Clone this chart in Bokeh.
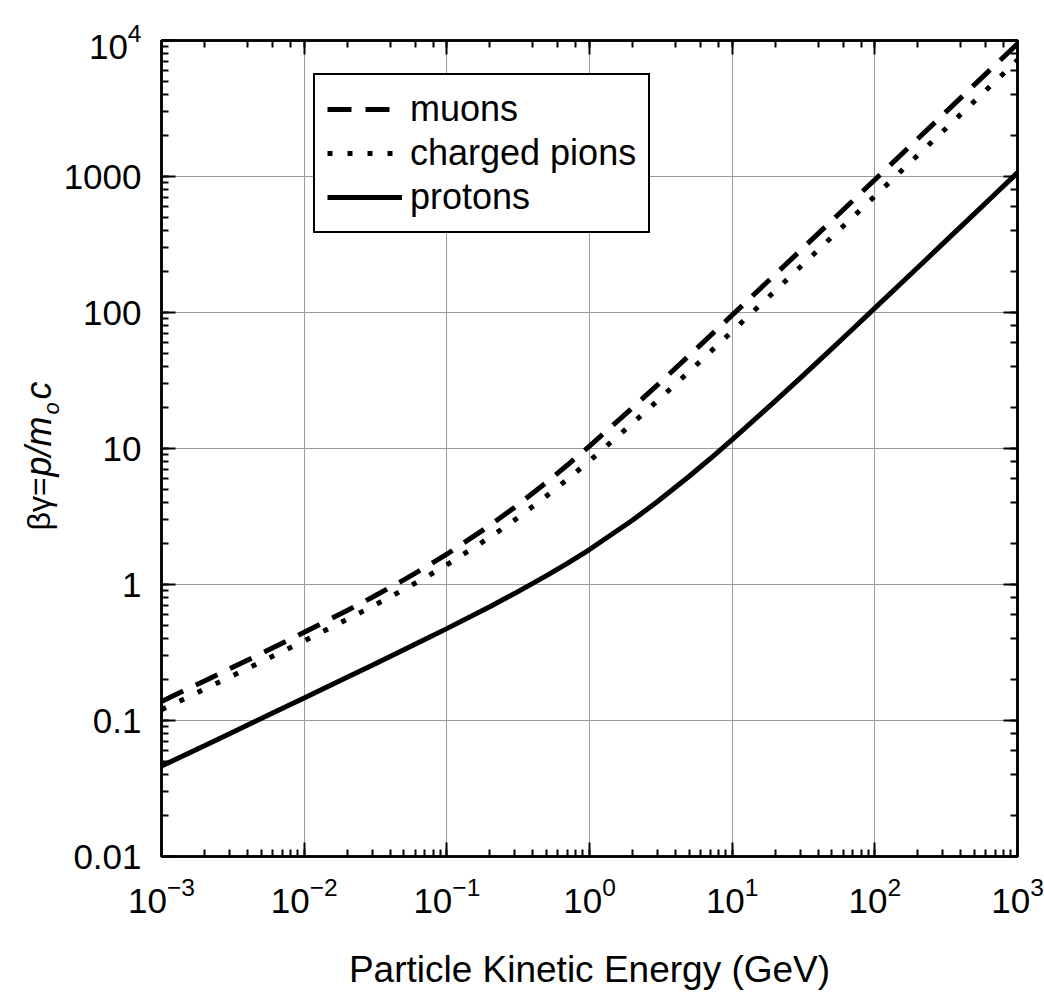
import math
from bokeh.plotting import figure
from bokeh.layouts import row
from bokeh.models import (Range1d, LogAxis, LogTicker, LogTickFormatter, Legend,
                          LegendItem, ColumnDataSource, CustomJSTickFormatter)
from bokeh.core.properties import value
from bokeh.embed import file_html
from bokeh.resources import INLINE

# ---- data ----
energy_gev = [1e-3, 2e-3, 3e-3, 5e-3, 7e-3,
              1e-2, 2e-2, 3e-2, 5e-2, 7e-2,
              0.1, 0.2, 0.3, 0.5, 0.7,
              1, 2, 3, 5, 7,
              10, 20, 30, 50, 70,
              100, 200, 300, 500, 700, 1000]
muons = [0.138, 0.1955, 0.240, 0.311, 0.370,
         0.445, 0.644, 0.805, 1.082, 1.328,
         1.670, 2.715, 3.707, 5.644, 7.559,
         10.42, 19.90, 29.38, 48.31, 67.24,
         95.64, 190.3, 284.9, 474.2, 663.5,
         947.4, 1894, 2840, 4733, 6626, 9465]
pions = [0.1199, 0.1699, 0.2085, 0.2701, 0.3207,
         0.3853, 0.5542, 0.690, 0.9191, 1.120,
         1.395, 2.218, 2.987, 4.472, 5.932,
         8.104, 15.30, 22.47, 36.81, 51.14,
         72.64, 144.3, 215.9, 359.2, 502.5,
         717.5, 1434, 2150, 3583, 5016, 7166]
protons = [0.0462, 0.0653, 0.0800, 0.1034, 0.1224,
           0.1464, 0.2076, 0.2549, 0.3308, 0.3934,
           0.4738, 0.6869, 0.8612, 1.162, 1.431,
           1.808, 2.968, 4.077, 6.250, 8.401,
           11.62, 22.29, 32.96, 54.28, 75.60,
           107.6, 214.2, 320.7, 533.9, 747.1, 1067]
series_names = ["muons", "charged pions", "protons"]
x_label = "Particle Kinetic Energy (GeV)"
y_label_parts = ["\u03b2\u03b3=", "p/m", "o", "c"]

FONT = "Liberation Sans"
X0, X1 = 1e-3, 1e3
Y0, Y1 = 1e-2, 1e4

H = 992
SIDE_W = 60                      # strip holding the y-axis title
W = 1044 - SIDE_W
BL, BR, BT, BB = 98, 27, 40, 136

p = figure(width=W, height=H, x_axis_type="log", y_axis_type="log",
           x_range=Range1d(X0, X1), y_range=Range1d(Y0, Y1),
           output_backend="svg", toolbar_location=None,
           min_border_left=BL, min_border_right=BR, min_border_top=BT,
           min_border_bottom=BB)
p.background_fill_color = "white"
p.border_fill_color = "white"
p.outline_line_color = "black"
p.outline_line_width = 2.5

src = ColumnDataSource(dict(x=energy_gev, mu=muons, pi=pions, pr=protons))
r_mu = p.line("x", "mu", source=src, line_color="black", line_width=5,
              line_dash="24 14")
r_pi = p.line("x", "pi", source=src, line_color="black", line_width=5,
              line_dash="5 15")
r_pr = p.line("x", "pr", source=src, line_color="black", line_width=5)

# grids
for g in (p.xgrid, p.ygrid):
    g.grid_line_color = "#9a9a9a"
    g.grid_line_width = 1

def style_axis(ax):
    ax.axis_line_color = "black"
    ax.axis_line_width = 2.5
    ax.major_tick_in = 14
    ax.major_tick_out = 0
    ax.minor_tick_in = 7
    ax.minor_tick_out = 0
    ax.major_tick_line_width = 2
    ax.minor_tick_line_width = 2
    ax.major_tick_line_color = "black"
    ax.minor_tick_line_color = "black"
    ax.major_label_text_font = FONT
    ax.major_label_text_font_size = "35px"
    ax.major_label_text_color = "black"

xa = p.xaxis[0]
style_axis(xa)
xa.major_label_standoff = 20
xa.axis_label = x_label
xa.axis_label_text_font = FONT
xa.axis_label_text_font_size = "37px"
xa.axis_label_text_font_style = "normal"
xa.axis_label_text_color = "black"
xa.axis_label_standoff = 33

ya = p.yaxis[0]
style_axis(ya)
ya.formatter = LogTickFormatter(min_exponent=4)
ya.major_label_standoff = 20

# mirrored axes (ticks only) on top and right
for loc in ("above", "right"):
    ax = LogAxis(ticker=LogTicker(), formatter=CustomJSTickFormatter(code="return ''"))
    style_axis(ax)
    ax.major_label_text_font_size = "1px"
    ax.major_label_standoff = 0
    p.add_layout(ax, loc)

# legend
legend = Legend(items=[LegendItem(label=series_names[0], renderers=[r_mu]),
                       LegendItem(label=series_names[1], renderers=[r_pi]),
                       LegendItem(label=series_names[2], renderers=[r_pr])],
                location=(152, 623), margin=0, padding=12, spacing=0,
                glyph_width=75, glyph_height=44, label_height=44,
                label_standoff=8, label_text_font=FONT,
                label_text_font_size="36px", label_text_color="black",
                border_line_color="black", border_line_width=2.5,
                border_line_alpha=1.0,
                background_fill_color="white", background_fill_alpha=1)
p.add_layout(legend)

# side strip with the rotated y-axis title; its frame is aligned with the
# main frame (page y 40..856), so the y range is set to page pixels
side = figure(width=SIDE_W, height=H, x_range=Range1d(0, SIDE_W),
              y_range=Range1d(BT + (H - BT - BB), BT),
              x_axis_location=None, y_axis_location=None,
              output_backend="svg", toolbar_location=None,
              min_border_left=0, min_border_right=0, min_border_top=BT,
              min_border_bottom=BB)
side.outline_line_color = None
side.grid.visible = False
side.background_fill_color = "white"
side.border_fill_color = "white"

title_style = [("normal", "32px", 38, 530),
               ("italic", "36px", 38, 476),
               ("italic", "22px", 51, 414),
               ("italic", "36px", 38, 399)]
for part, (st, fs, sx, sy) in zip(y_label_parts, title_style):
    side.text(x=[sx], y=[sy], text=[part], angle=math.pi / 2,
              text_font=value(FONT), text_font_size=value(fs),
              text_font_style=value(st), text_color="black",
              text_align="left", text_baseline="alphabetic")

layout = row(side, p, spacing=0)
open("out.html", "w").write(file_html(layout, INLINE))
